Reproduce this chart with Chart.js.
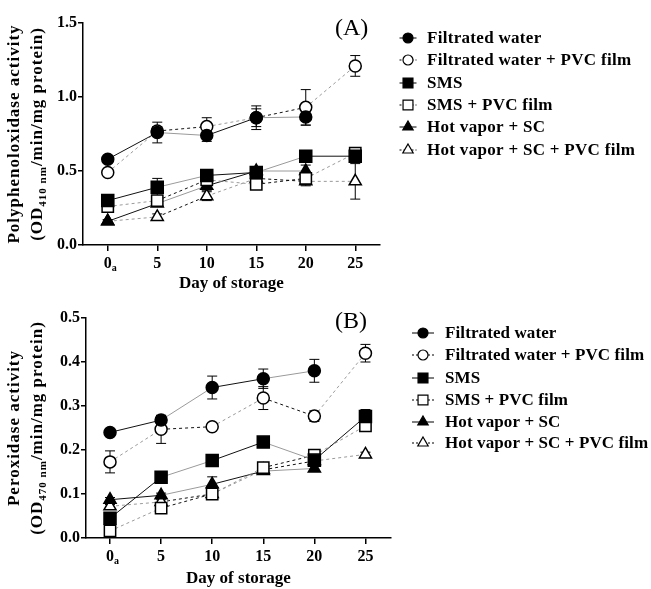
<!DOCTYPE html>
<html>
<head>
<meta charset="utf-8">
<script src="https://cdn.jsdelivr.net/npm/chart.js@4.4.0/dist/chart.umd.min.js"></script>
<style>
body { margin: 0; background: #fff; }
#wrap { position: relative; width: 651px; height: 589px; }
canvas { position: absolute; left: 0; }
#chartA { top: 0; }
#chartB { top: 294px; }
</style>
</head>
<body>
<div id="wrap">
  <canvas id="chartA" width="651" height="294"></canvas>
  <canvas id="chartB" width="651" height="295"></canvas>
</div>
<script>
// days of storage (x axis)
const days = [0, 5, 10, 15, 20, 25];
const seriesNames = ['Filtrated water', 'Filtrated water + PVC film', 'SMS', 'SMS + PVC film', 'Hot vapor + SC', 'Hot vapor + SC + PVC film'];

// (A) Polyphenoloxidase activity - means
const ppoWater    = [0.58, 0.76, 0.74, 0.86, 0.865];
const ppoWaterPvc = [0.49, 0.77, 0.80, 0.86, 0.93, 1.21];
const ppoSms      = [0.30, 0.39, 0.47, 0.49, 0.60, 0.60];
const ppoSmsPvc   = [0.26, 0.30, 0.44, 0.41, 0.45, 0.62];
const ppoHot      = [0.16, 0.28, 0.40, 0.50, 0.50];
const ppoHotPvc   = [0.16, 0.19, 0.33, 0.45, 0.43, 0.43];
// (A) error bars
const ppoWaterErr    = [0.02, 0.07, 0.04, 0.06, 0.055];
const ppoWaterPvcErr = [0.02, 0.03, 0.06, 0.08, 0.12, 0.07];
const ppoSmsErr      = [0.02, 0.06, 0.02, 0.02, 0.02, 0.03];
const ppoSmsPvcErr   = [0.02, 0.03, 0.02, 0.02, 0.03, 0.02];
const ppoHotErr      = [0.01, 0.02, 0.03, 0.03, 0.04];
const ppoHotPvcErr   = [0.01, 0.02, 0.03, 0.03, 0.03, 0.12];

// (B) Peroxidase activity - means
const podWater    = [0.24, 0.268, 0.342, 0.362, 0.38];
const podWaterPvc = [0.173, 0.247, 0.253, 0.318, 0.277, 0.42];
const podSms      = [0.045, 0.138, 0.176, 0.218, 0.177, 0.276];
const podSmsPvc   = [0.016, 0.068, 0.10, 0.16, 0.188, 0.255];
const podHot      = [0.087, 0.097, 0.122, 0.152, 0.158];
const podHotPvc   = [0.072, 0.082, 0.10, 0.155, 0.175, 0.19];
// (B) error bars
const podWaterErr    = [0.005, 0.01, 0.026, 0.022, 0.026];
const podWaterPvcErr = [0.025, 0.032, 0.005, 0.026, 0.012, 0.02];
const podSmsErr      = [0.005, 0.005, 0.005, 0.005, 0.005, 0.016];
const podSmsPvcErr   = [0.004, 0.005, 0.005, 0.005, 0.005, 0.01];
const podHotErr      = [0.005, 0.005, 0.017, 0.005, 0.005];
const podHotPvcErr   = [0.004, 0.005, 0.005, 0.005, 0.005, 0.005];

const ppoTicks = [0, 0.5, 1.0, 1.5];
const podTicks = [0, 0.1, 0.2, 0.3, 0.4, 0.5];

// marker look for each series
const markerStyles = [
    { shape: 'circle', filled: true, r: 6 },
    { shape: 'circle', filled: false, r: 6 },
    { shape: 'rect', filled: true, r: 8.5 },
    { shape: 'rect', filled: false, r: 8 },
    { shape: 'triangle', filled: true, r: 7 },
    { shape: 'triangle', filled: false, r: 7 },
];

const serif = "'Liberation Serif', 'Times New Roman', serif";

function buildDatasets(values, errors) {
    return values.map((vals, k) => {
        const st = markerStyles[k];
        return {
            label: seriesNames[k],
            data: vals.map((v, i) => ({ x: days[i], y: v })),
            errors: errors[k],
            pointStyle: st.shape,
            pointRadius: st.r,
            pointHoverRadius: st.r,
            pointBackgroundColor: st.filled ? '#000' : '#fff',
            pointBorderColor: '#000',
            pointBorderWidth: 1.5,
            borderWidth: 1,
            borderDash: st.filled ? [] : [3, 3],
            segment: {
                // prism-like mix of black and grey pieces
                borderColor: c => ((c.p0DataIndex % 2 === 0) === st.filled) ? '#111' : '#9a9a9a',
            },
            fill: false,
            tension: 0,
        };
    });
}

// error bars, drawn under the markers
const errorBars = {
    id: 'errorBars',
    beforeDatasetsDraw(chart) {
        const ctx = chart.ctx, xs = chart.scales.x, ys = chart.scales.y;
        ctx.save();
        ctx.strokeStyle = '#000';
        ctx.lineWidth = 1;
        chart.data.datasets.forEach(ds => {
            ds.data.forEach((p, i) => {
                const e = ds.errors[i];
                if (!e) return;
                const px = xs.getPixelForValue(p.x);
                const top = ys.getPixelForValue(p.y + e);
                const bot = ys.getPixelForValue(p.y - e);
                ctx.beginPath();
                ctx.moveTo(px, top); ctx.lineTo(px, bot);
                ctx.moveTo(px - 5, top); ctx.lineTo(px + 5, top);
                ctx.moveTo(px - 5, bot); ctx.lineTo(px + 5, bot);
                ctx.stroke();
            });
        });
        ctx.restore();
    }
};

function drawYTitle(ctx, cx, cy, parts) {
    ctx.save();
    ctx.translate(cx, cy);
    ctx.rotate(-Math.PI / 2);
    ctx.letterSpacing = '1px';
    ctx.textBaseline = 'middle';
    ctx.textAlign = 'left';
    ctx.fillStyle = '#000';
    let total = 0;
    parts.forEach(p => {
        ctx.font = (p.sub ? 'bold 11px ' : 'bold 17px ') + serif;
        total += ctx.measureText(p.t).width;
    });
    let x = -total / 2;
    parts.forEach(p => {
        ctx.font = (p.sub ? 'bold 11px ' : 'bold 17px ') + serif;
        ctx.fillText(p.t, x, p.sub ? 5 : 0);
        x += ctx.measureText(p.t).width;
    });
    ctx.restore();
}

function drawLegend(ctx, mx, half, tx, rows, spacing) {
    ctx.save();
    seriesNames.forEach((name, i) => {
        const st = markerStyles[i], y = rows[i];
        ctx.strokeStyle = '#000';
        ctx.lineWidth = 1;
        ctx.setLineDash(st.filled ? [] : [2, 2]);
        ctx.beginPath();
        ctx.moveTo(mx - half, y); ctx.lineTo(mx + half, y);
        ctx.stroke();
        ctx.setLineDash([]);
        ctx.fillStyle = st.filled ? '#000' : '#fff';
        ctx.lineWidth = 1.2;
        const r = st.shape === 'circle' ? 5 : (st.shape === 'rect' ? 7 : 6);
        Chart.helpers.drawPoint(ctx, { pointStyle: st.shape, radius: r, borderWidth: 1.2, rotation: 0 }, mx, y);
        ctx.fillStyle = '#000';
        ctx.font = 'bold 17px ' + serif;
        ctx.letterSpacing = spacing;
        ctx.textBaseline = 'middle';
        ctx.textAlign = 'left';
        ctx.fillText(name, tx, y + 1);
    });
    ctx.restore();
}

function makeChart(id, values, errors, yMax, yTicks, xMin, pad, deco) {
    const decorations = {
        id: 'decorations',
        afterDraw(chart) {
            const ctx = chart.ctx;
            // panel letter
            ctx.save();
            ctx.fillStyle = '#000';
            ctx.font = '24px ' + serif;
            ctx.textBaseline = 'alphabetic';
            ctx.fillText(deco.label, 335, deco.labelY);
            // subscript a on the first day
            const x0 = chart.scales.x.getPixelForValue(0);
            ctx.font = 'bold 10px ' + serif;
            ctx.fillText('a', x0 + 4, chart.chartArea.bottom + 26);
            ctx.restore();
            drawYTitle(ctx, 15, deco.titleY, [{ t: deco.title }]);
            drawYTitle(ctx, 38, deco.titleY, deco.unit);
            drawLegend(ctx, deco.legendX, deco.legendHalf, deco.textX, deco.rows, deco.spacing);
        }
    };
    return new Chart(document.getElementById(id), {
        type: 'line',
        data: { datasets: buildDatasets(values, errors) },
        plugins: [errorBars, decorations],
        options: {
            responsive: false,
            animation: false,
            layout: { padding: pad },
            plugins: { legend: { display: false }, tooltip: { enabled: false } },
            scales: {
                x: {
                    type: 'linear',
                    min: xMin,
                    max: 27.5,
                    afterBuildTicks: s => { s.ticks = days.map(v => ({ value: v })); },
                    afterFit: s => { s.height = deco.xHeight; },
                    ticks: {
                        color: '#000',
                        padding: 3,
                        font: { family: serif, size: 16, weight: 'bold' },
                        maxRotation: 0,
                    },
                    grid: { drawOnChartArea: false, drawTicks: true, tickLength: 6, color: '#000', lineWidth: 1.5 },
                    border: { display: true, color: '#000', width: 1.5 },
                    title: {
                        display: true,
                        text: 'Day of storage',
                        color: '#000',
                        font: { family: serif, size: 17, weight: 'bold' },
                        padding: { top: 0, bottom: deco.xTitlePad },
                    },
                },
                y: {
                    min: 0,
                    max: yMax,
                    afterBuildTicks: s => { s.ticks = yTicks.map(v => ({ value: v })); },
                    afterFit: s => { s.width = deco.yWidth; },
                    ticks: {
                        color: '#000',
                        padding: 1,
                        font: { family: serif, size: 16, weight: 'bold' },
                        callback: v => v.toFixed(1),
                    },
                    grid: { drawOnChartArea: false, drawTicks: true, tickLength: 5, color: '#000', lineWidth: 1.5 },
                    border: { display: true, color: '#000', width: 1.5 },
                },
            },
        },
    });
}

makeChart('chartA',
    [ppoWater, ppoWaterPvc, ppoSms, ppoSmsPvc, ppoHot, ppoHotPvc],
    [ppoWaterErr, ppoWaterPvcErr, ppoSmsErr, ppoSmsPvcErr, ppoHotErr, ppoHotPvcErr],
    1.5, ppoTicks, -2.5,
    { top: 23, right: 271, bottom: 0, left: 0 },
    {
        label: '(A)', labelY: 35,
        title: 'Polyphenoloxidase activity',
        unit: [{ t: '(OD' }, { t: '410 nm', sub: true }, { t: '/min/mg protein)' }],
        titleY: 134,
        legendX: 408, legendHalf: 8.5, textX: 427, spacing: '0.3px',
        rows: [38, 60, 83, 105, 127, 150],
        xHeight: 49, yWidth: 83, xTitlePad: 0,
    });

makeChart('chartB',
    [podWater, podWaterPvc, podSms, podSmsPvc, podHot, podHotPvc],
    [podWaterErr, podWaterPvcErr, podSmsErr, podSmsPvcErr, podHotErr, podHotPvcErr],
    0.5, podTicks, -2.35,
    { top: 24, right: 260, bottom: 0, left: 0 },
    {
        label: '(B)', labelY: 34,
        title: 'Peroxidase activity',
        unit: [{ t: '(OD' }, { t: '470 nm', sub: true }, { t: '/min/mg protein)' }],
        titleY: 134,
        legendX: 423, legendHalf: 11, textX: 445, spacing: '0.1px',
        rows: [39, 61, 84, 106, 128, 149],
        xHeight: 51, yWidth: 86, xTitlePad: 0,
    });
</script>
</body>
</html>
